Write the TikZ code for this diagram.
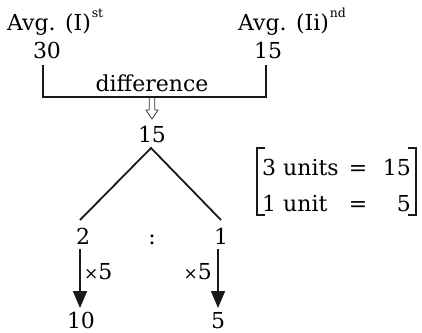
\documentclass[tikz,border=0pt]{standalone}
\usepackage{fontspec}
\setmainfont{DejaVu Serif}
\usetikzlibrary{arrows.meta}
\begin{document}
\begin{tikzpicture}[x=1pt,y=-1pt,
  txt/.style={inner sep=0pt, anchor=base, font=\fontsize{22}{26}\selectfont},
  sup/.style={inner sep=0pt, anchor=base west, font=\fontsize{12.5}{14}\selectfont},
  ln/.style={line width=1.8pt, black!90},
  brk/.style={line width=2.6pt, black!90},
  darrow/.style={line width=1.8pt, black!90, -{Triangle[length=17pt,width=14pt]}},
  hollow/.style={line width=0.8pt, black!80, line join=miter}
]
\useasboundingbox (0,0) rectangle (422,332);
% top labels
\node[txt, anchor=base west] (avg1) at (7,30) {Avg. (I)};
\node[sup] (st) at (avg1.base east) [xshift=0.5pt, yshift=13pt] {st};
\node[txt] (n30) at (47,58) {30};
\node[txt, anchor=base west] (avg2) at (238,30) {Avg. (Ii)};
\node[sup] (nd) at (avg2.base east) [xshift=0.5pt, yshift=13pt] {nd};
\node[txt] (n15r) at (268,58) {15};
% bracket line
\coordinate (l1) at (43,65);
\coordinate (r1) at (266,65);
\coordinate (bot) at (266,97);
\draw[ln] (l1) |- (bot) -- (r1);
\node[txt] (diff) at (152,91) {difference};
\node[txt] (mid) at (152,142) {15};
\coordinate (ha) at (152,98);
\coordinate (tip) at (152,119);
\draw[hollow] (149.2,98) -- (149.2,110) -- (146,110) -- (tip) -- (158,110) -- (154.8,110) -- (154.8,98);
% triangle
\coordinate (apex) at (151,148);
\coordinate (le) at (80,220);
\coordinate (re) at (221,220);
\draw[ln] (le) -- (apex) -- (re);
% ratio
\node[txt] (two) at (83,244) {2};
\node[txt] (colon) at (152,244) {:};
\node[txt] (one) at (221,244) {1};
% arrows
\node[txt] (ten) at (81,328) {10};
\node[txt] (five) at (218,328) {5};
\coordinate (la) at (80,249);
\coordinate (lb) at (80,308);
\coordinate (ra) at (218,249);
\coordinate (rb) at (218,308);
\draw[darrow] (la) -- (lb);
\draw[darrow] (ra) -- (rb);
\node[txt, anchor=base west] (x1) at (84,279) {{\fontsize{17}{20}\selectfont ×}5};
\node[txt, anchor=base east] (x2) at (212,279) {{\fontsize{17}{20}\selectfont ×}5};
% units bracket
\node[txt, anchor=base west] (u1) at (262,175) {3 units};
\node[txt] (e1) at (358,175) {=};
\node[txt, anchor=base east] (v1) at (411,175) {15};
\node[txt, anchor=base west] (u2) at (262,211) {1 unit};
\node[txt] (e2) at (358,211) {=};
\node[txt, anchor=base east] (v2) at (411,211) {5};
\coordinate (bl1) at (265,148);
\coordinate (bl2) at (265,215);
\coordinate (br1) at (408,148);
\coordinate (br2) at (408,215);
\draw[brk] (bl1) -| (257,215) -- (bl2);
\draw[brk] (br1) -| (416,215) -- (br2);
\end{tikzpicture}
\end{document}
